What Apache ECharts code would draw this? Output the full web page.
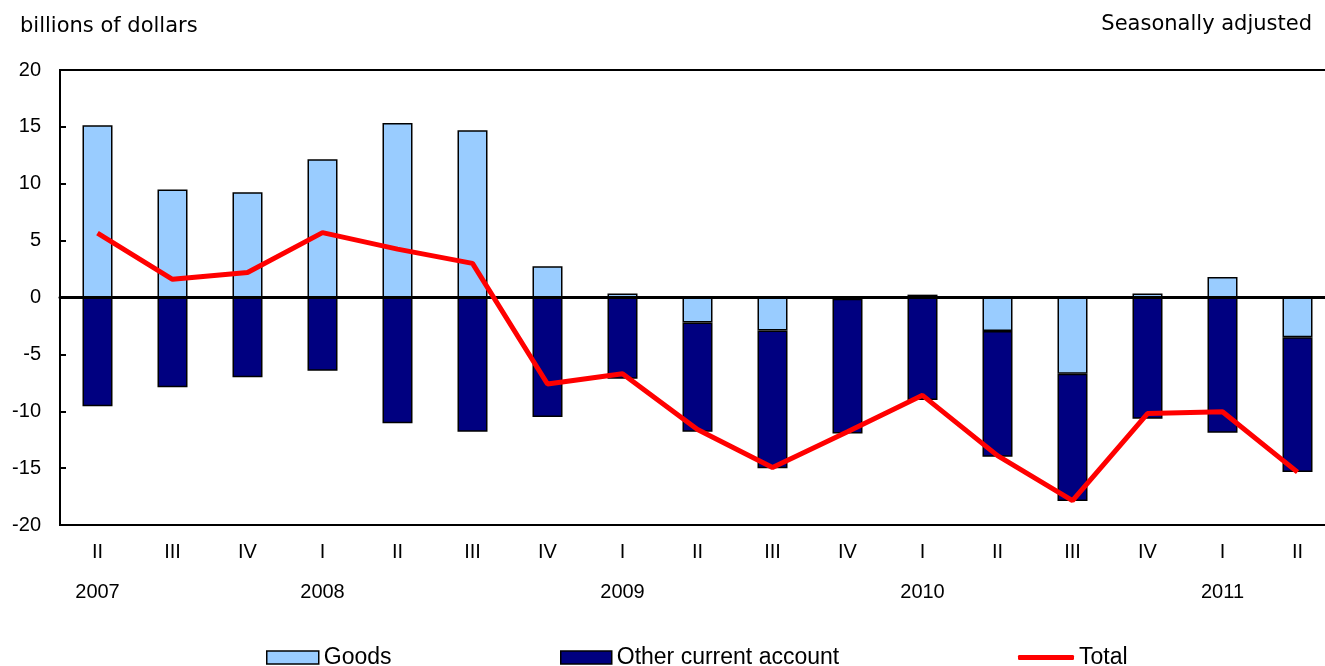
<!DOCTYPE html>
<html>
<head>
<meta charset="utf-8">
<script src="https://cdn.jsdelivr.net/npm/echarts@6/dist/echarts.min.js"></script>
<style>
	html, body { margin: 0; padding: 0; background: #fff; }
	#main { width: 1325px; height: 666px; }
</style>
</head>
<body>
<div id="main"></div>
<script>
var quarters = ['II', 'III', 'IV', 'I', 'II', 'III', 'IV', 'I', 'II', 'III', 'IV', 'I', 'II', 'III', 'IV', 'I', 'II'];
var yearLabels = ['2007', '', '', '2008', '', '', '', '2009', '', '', '', '2010', '', '', '', '2011', ''];
var goods = [15.15, 9.5, 9.25, 12.15, 15.35, 14.7, 2.75, 0.35, -2.2, -2.9, -0.1, 0.25, -2.95, -6.7, 0.35, 1.8, -3.5];
var other = [-9.55, -7.9, -7.0, -6.45, -11.05, -11.8, -10.5, -7.15, -9.6, -12.1, -11.85, -9.0, -11.05, -11.2, -10.65, -11.9, -11.85];
var total = [5.65, 1.6, 2.2, 5.7, 4.25, 3.0, -7.6, -6.7, -11.6, -14.95, -11.8, -8.6, -13.9, -17.85, -10.2, -10.05, -15.35];

var myChart = echarts.init(document.getElementById('main'));

var legendText = {
	fontFamily: 'Liberation Sans',
	fontSize: 23,
	color: '#000'
};

var option = {
	animation: false,
	backgroundColor: '#fff',
	title: [{
		text: 'billions of dollars',
		left: 15,
		top: 11,
		textStyle: { fontFamily: 'DejaVu Sans', fontSize: 21, fontWeight: 'normal', color: '#000' }
	}, {
		text: 'Seasonally adjusted',
		right: 8,
		top: 9,
		textStyle: { fontFamily: 'DejaVu Sans', fontSize: 21, fontWeight: 'normal', color: '#000' }
	}],
	legend: [{
		data: [{ name: 'Goods', icon: 'rect' }],
		left: 266, top: 646,
		itemWidth: 52, itemHeight: 13, padding: 0,
		itemStyle: { borderColor: '#000', borderWidth: 1.5 },
		textStyle: legendText
	}, {
		data: [{ name: 'Other current account', icon: 'rect' }],
		left: 560, top: 646,
		itemWidth: 51, itemHeight: 13, padding: 0,
		itemStyle: { borderColor: '#000', borderWidth: 1.5 },
		textStyle: legendText
	}, {
		data: [{ name: 'Total', icon: 'roundRect' }],
		left: 1018, top: 646,
		itemWidth: 56, itemHeight: 5, padding: 0,
		itemStyle: { color: '#ff0000', borderWidth: 0 },
		textStyle: legendText
	}],
	grid: {
		left: 60,
		width: 1275,
		top: 70,
		height: 455,
		outerBoundsMode: 'none',
		show: true,
		borderColor: '#000',
		borderWidth: 2
	},
	xAxis: [{
		type: 'category',
		data: quarters,
		position: 'bottom',
		axisLine: { show: false, onZero: false },
		axisTick: { show: false },
		axisLabel: {
			interval: 0,
			margin: 7,
			formatter: function(v, i) {
				return '{q|' + v + '}\n{y|' + (yearLabels[i] || ' ') + '}';
			},
			rich: {
				q: { fontFamily: 'Liberation Sans', fontSize: 20, color: '#000', lineHeight: 40 },
				y: { fontFamily: 'Liberation Sans', fontSize: 20, color: '#000', lineHeight: 40 }
			}
		}
	}, {
		// zero line
		type: 'category',
		data: quarters,
		position: 'top',
		z: 3,
		axisLine: { show: true, onZero: true, lineStyle: { color: '#000', width: 3 } },
		axisTick: { show: false },
		axisLabel: { show: false }
	}],
	yAxis: {
		type: 'value',
		min: -20,
		max: 20,
		interval: 5,
		splitLine: { show: false },
		axisLine: { show: true, lineStyle: { color: '#000', width: 2 } },
		axisTick: { show: true, inside: true, length: 6, lineStyle: { color: '#000', width: 2 } },
		axisLabel: {
			margin: 19,
			fontFamily: 'Liberation Sans',
			fontSize: 20,
			color: '#000'
		}
	},
	series: [{
		name: 'Goods',
		type: 'bar',
		stack: 'ca',
		barWidth: 30,
		itemStyle: { color: '#99ccff', borderColor: '#000', borderWidth: 1.5 },
		data: goods
	}, {
		name: 'Other current account',
		type: 'bar',
		stack: 'ca',
		barWidth: 30,
		itemStyle: { color: '#000080', borderColor: '#000', borderWidth: 1.5 },
		data: other
	}, {
		name: 'Total',
		type: 'line',
		z: 5,
		symbol: 'none',
		lineStyle: { color: '#ff0000', width: 5 },
		itemStyle: { color: '#ff0000' },
		data: total
	}]
};

myChart.setOption(option);
</script>
</body>
</html>
